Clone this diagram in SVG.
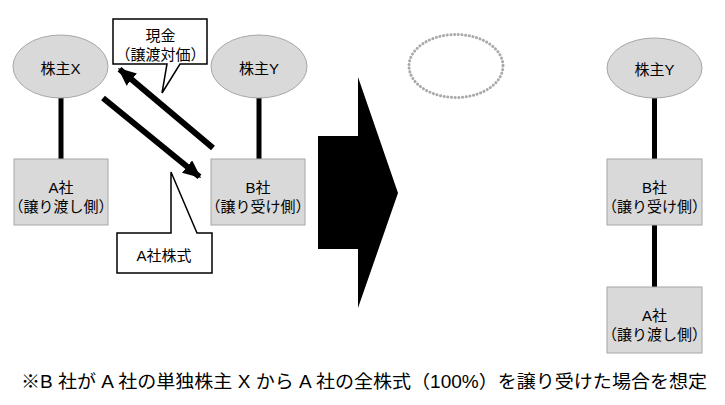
<svg xmlns="http://www.w3.org/2000/svg" width="725" height="405" viewBox="0 0 725 405">
<style>
text{font-family:"Liberation Sans","Noto Sans CJK JP",sans-serif;fill:#000}
.n{font-size:15px;text-anchor:middle}
.sh{fill:#d9d9d9;stroke:#a6a6a6;stroke-width:1}
.co{fill:#fff;stroke:#000;stroke-width:1.5;stroke-linejoin:miter}
.ln{stroke:#000;stroke-width:5}
.ar{stroke:#000;stroke-width:6}
</style>
<defs>
<marker id="ah" viewBox="0 0 18 16" refX="16" refY="8" markerWidth="18" markerHeight="16" markerUnits="userSpaceOnUse" orient="auto">
<path d="M0,0 L18,8 L0,16 Z" fill="#000"/>
</marker>
</defs>
<rect width="725" height="405" fill="#fff"/>
<g id="connectors">
<line class="ln" x1="61" y1="97" x2="61" y2="159"/>
<line class="ln" x1="259" y1="97" x2="259" y2="159"/>
<line class="ln" x1="654.5" y1="98" x2="654.5" y2="159"/>
<line class="ln" x1="654.5" y1="225" x2="654.5" y2="287"/>
<line class="ar" x1="213" y1="148" x2="119.5" y2="69.3" marker-end="url(#ah)"/>
<line class="ar" x1="103" y1="98" x2="199.5" y2="176.7" marker-end="url(#ah)"/>
</g>
<g id="shareholderX">
<ellipse class="sh" cx="60.5" cy="66.5" rx="47.5" ry="31.5"/>
<text class="n" x="60.5" y="74">株主X</text>
</g>
<g id="shareholderY">
<ellipse class="sh" cx="259" cy="66.5" rx="48" ry="31.5"/>
<text class="n" x="259" y="74">株主Y</text>
</g>
<g id="companyA">
<rect class="sh" x="14" y="159" width="94" height="66"/>
<text class="n" x="61" y="192.5">A社</text>
<text class="n" x="61" y="211.5">（譲り渡し側）</text>
</g>
<g id="companyB">
<rect class="sh" x="211" y="159" width="94" height="66"/>
<text class="n" x="258" y="192.5">B社</text>
<text class="n" x="258" y="211.5">（譲り受け側）</text>
</g>
<g id="calloutCash">
<path class="co" d="M113,19 H207 V64 H180 L162,93 L167,64 H113 Z"/>
<text class="n" x="160.5" y="41">現金</text>
<text class="n" x="160.5" y="60">（譲渡対価）</text>
</g>
<g id="calloutShares">
<path class="co" d="M117,233 H171 L171,172 L197,233 H212 V273 H117 Z"/>
<text class="n" x="164" y="261">A社株式</text>
</g>
<g id="bigArrow">
<polygon points="318,136 358,136 358,77 398,193 358,308 358,249 318,249" fill="#000"/>
</g>
<g id="formerShareholder">
<ellipse cx="456" cy="66" rx="47" ry="31.5" fill="none" stroke="#aaa" stroke-width="3" stroke-dasharray="0.1 3.6" stroke-linecap="round"/>
</g>
<g id="shareholderY2">
<ellipse class="sh" cx="654.5" cy="68" rx="47.5" ry="30"/>
<text class="n" x="654.5" y="74.5">株主Y</text>
</g>
<g id="companyB2">
<rect class="sh" x="607" y="159" width="95" height="66"/>
<text class="n" x="654.5" y="192.5">B社</text>
<text class="n" x="654.5" y="211.5">（譲り受け側）</text>
</g>
<g id="companyA2">
<rect class="sh" x="607" y="287" width="95" height="66"/>
<text class="n" x="654.5" y="320.5">A社</text>
<text class="n" x="654.5" y="339.5">（譲り渡し側）</text>
</g>
<text x="21" y="388" font-size="18" textLength="686" lengthAdjust="spacingAndGlyphs">※B 社が A 社の単独株主 X から A 社の全株式（100%）を譲り受けた場合を想定</text>
</svg>
